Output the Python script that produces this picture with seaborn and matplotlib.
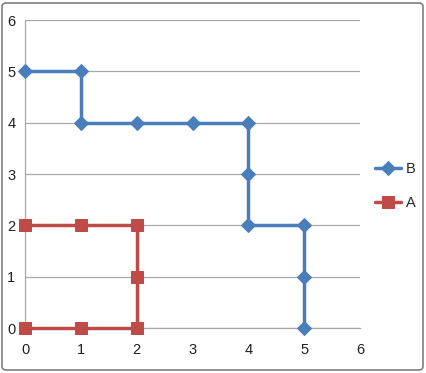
import matplotlib
matplotlib.use("Agg")
import matplotlib.pyplot as plt
import seaborn as sns
import pandas as pd
from matplotlib.patches import FancyBboxPatch

b_x = [0, 1, 1, 2, 3, 4, 4, 4, 5, 5, 5]
b_y = [5, 5, 4, 4, 4, 4, 3, 2, 2, 1, 0]
a_x = [0, 1, 2, 2, 2, 1, 0]
a_y = [0, 0, 0, 1, 2, 2, 2]
ticks = [0, 1, 2, 3, 4, 5, 6]

sns.set_style("white")
plt.rcParams['font.family'] = ['Liberation Sans Narrow', 'Liberation Sans', 'DejaVu Sans']

fig = plt.figure(figsize=(4.26, 3.73), dpi=100)
ax = fig.add_axes([25/426, 1-328/373, 335/426, 308/373])

dfb = pd.DataFrame({"x": b_x, "y": b_y})
dfa = pd.DataFrame({"x": a_x, "y": a_y})
blue = "#4A7EBB"
red = "#BE4B48"
sns.lineplot(data=dfb, x="x", y="y", sort=False, estimator=None, ax=ax, color=blue,
             lw=2.5, marker="D", markersize=7, markeredgecolor=blue, label="B", zorder=3)
sns.lineplot(data=dfa, x="x", y="y", sort=False, estimator=None, ax=ax, color=red,
             lw=2.5, marker="s", markersize=8, markeredgecolor=red, label="A", zorder=3)
for ln in ax.lines:
    ln.set_clip_on(False)

ax.set_xlim(0, 6)
ax.set_ylim(0, 6)
ax.set_xticks(ticks)
ax.set_yticks(ticks)
ax.grid(axis="y", color="#A8A8A8", lw=0.9)
ax.grid(axis="x", visible=False)
ax.set_axisbelow(True)
for s in ["top", "right"]:
    ax.spines[s].set_visible(False)
for s in ["left", "bottom"]:
    ax.spines[s].set_color("#A8A8A8")
    ax.spines[s].set_linewidth(0.9)
ax.tick_params(axis="both", length=3, width=0.9, color="#A8A8A8", labelsize=10.5,
               labelcolor="#202020", direction="out")
ax.tick_params(axis="x", pad=8)
ax.tick_params(axis="y", pad=4)
ax.set_xlabel("")
ax.set_ylabel("")

leg = ax.legend(loc="center left", bbox_to_anchor=(1.045, 0.461), frameon=False,
                borderaxespad=0, borderpad=0,
                fontsize=10.5, handlelength=1.8, handletextpad=0.3, labelspacing=1.4)

border = FancyBboxPatch((2/426, 3/373), 421/426, 367/373, boxstyle="round,pad=0,rounding_size=0.01",
                        transform=fig.transFigure, fill=False, edgecolor="#7F7F7F", lw=1.2)
fig.patches.append(border)

fig.savefig("out.png", dpi=100)
